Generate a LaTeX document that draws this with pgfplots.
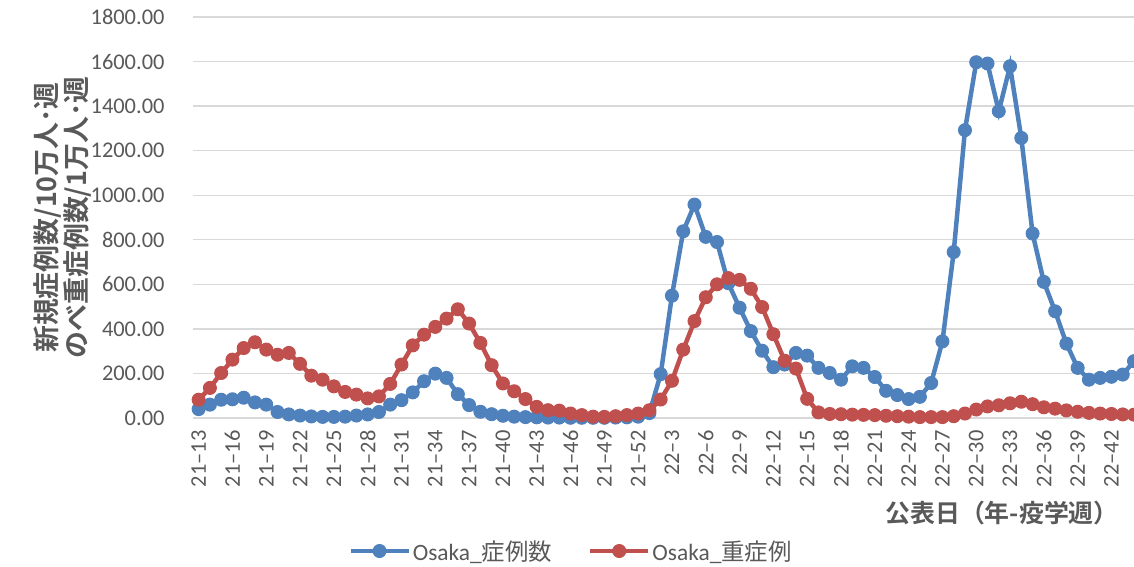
\documentclass[border=0pt]{standalone}
\usepackage{pgfplots}
\usepackage{pgfplotstable}
\pgfplotsset{compat=1.18}
\usepackage{fontspec}
\setmainfont{Carlito}
\newfontfamily\cjk{Noto Sans CJK JP}[BoldFont={Noto Sans CJK JP Bold}]
\definecolor{sblue}{HTML}{4F81BD}
\definecolor{sred}{HTML}{C0504D}
\definecolor{txt}{HTML}{595959}
\definecolor{grd}{HTML}{D9D9D9}

\pgfplotstableread{
x blue red
0 40 82
1 60 135
2 82 202
3 84 262
4 91 314
5 70 340
6 60 307
7 27 284
8 16 292
9 11 243
10 7 190
11 5 172
12 5 142
13 6 117
14 11 105
15 16 88
16 27 97
17 60 153
18 80 240
19 115 326
20 165 374
21 199 409
22 180 446
23 107 488
24 58 424
25 28 337
26 17 237
27 10 155
28 6 120
29 4 85
30 3 50
31 2 35
32 2 33
33 1 20
34 1 13
35 1 6
36 1 5
37 2 8
38 3 13
39 6 20
40 22 35
41 197 83
42 549 167
43 838 307
44 958 435
45 813 542
46 790 600
47 605 628
48 495 620
49 390 580
50 302 498
51 228 376
52 240 257
53 292 222
54 280 86
55 225 25
56 202 18
57 172 17
58 232 15
59 225 14
60 184 13
61 122 10
62 103 8
63 85 6
64 95 4
65 157 4
66 344 4
67 745 8
68 1292 20
69 1597 38
70 1591 52
71 1377 57
72 1579 66
73 1257 73
74 828 62
75 611 48
76 479 42
77 334 34
78 225 28
79 172 23
80 180 20
81 185 18
82 195 16
83 255 15
}\datatable

\begin{document}
\begin{tikzpicture}
\path[use as bounding box] (0,0) rectangle (1134bp,567bp);
\begin{axis}[
  at={(193bp,149bp)}, anchor=south west,
  scale only axis, width=941bp, height=401bp,
  xmin=-0.5, xmax=83, ymin=0, ymax=1800,
  ytick={0,200,...,1800},
  xtick={0,3,...,81},
  xticklabels={21–13,21–16,21–19,21–22,21–25,21–28,21–31,21–34,21–37,21–40,21–43,21–46,21–49,21–52,22–3,22–6,22–9,22–12,22–15,22–18,22–21,22–24,22–27,22–30,22–33,22–36,22–39,22–42},
  axis line style={draw=none},
  major tick length=0pt,
  ymajorgrids, major grid style={grd, line width=1.3bp},
  /pgf/number format/assume math mode=true,
  tick label style={font=\fontsize{22.5}{24}\selectfont, text=txt},
  yticklabel style={/pgf/number format/fixed, /pgf/number format/fixed zerofill, /pgf/number format/precision=2, /pgf/number format/1000 sep={}, anchor=east, xshift=-25bp},
  xticklabel style={rotate=90, anchor=east, xshift=-9bp},
  every axis y label/.style={at={(axis description cs:-0.139,0.5)}, rotate=90, anchor=center},
  ylabel={新規症例数/10万人･週\\のべ重症例数/1万人･週},
  ylabel style={font=\cjk\bfseries\fontsize{27}{30}\selectfont, text=txt, align=center},
  every axis x label/.style={at={(axis description cs:0.984,-0.237)}, anchor=east},
  xlabel={公表日（年-疫学週）},
  xlabel style={font=\cjk\bfseries\fontsize{25}{28}\selectfont, text=txt, inner sep=0pt},
  legend style={at={(axis description cs:0.4017,-0.3317)}, anchor=center, draw=none, fill=none, legend columns=2, font=\fontsize{23.5}{25}\selectfont, text=txt, /tikz/every even column/.append style={column sep=34bp}, inner sep=0pt},
  legend cell align=left,
  legend image code/.code={\draw[mark repeat=2,mark phase=2] plot coordinates {(0bp,0bp) (29bp,0bp) (58bp,0bp)};},
]
\addplot[sblue, line width=4.5bp, mark=*, mark size=6.5bp, mark options={solid, line width=1bp, fill=sblue}] table[x=x, y=blue] {\datatable};
\addlegendentry{Osaka\_{\cjk 症例数}}
\addplot[sred, line width=4.5bp, mark=*, mark size=6.5bp, mark options={solid, line width=1bp, fill=sred}] table[x=x, y=red] {\datatable};
\addlegendentry{Osaka\_{\cjk 重症例}}
\end{axis}
\end{tikzpicture}
\end{document}
